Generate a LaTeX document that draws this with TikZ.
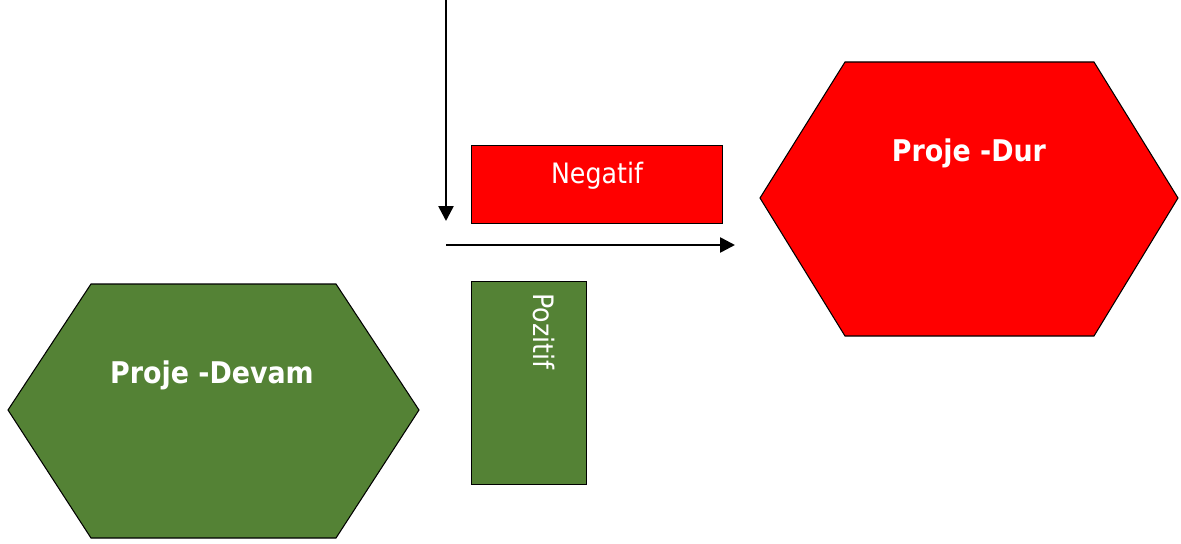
\documentclass[tikz,border=0pt]{standalone}
\usepackage{fontspec}
\setmainfont{DejaVu Sans}
\newfontfamily\condfont{DejaVu Sans Condensed}
\usetikzlibrary{arrows.meta}
\definecolor{pgreen}{HTML}{548235}
\definecolor{pred}{HTML}{FF0000}
\tikzset{
  hexshape/.style={draw=black, line width=0.6pt},
  boxshape/.style={draw=black, line width=0.6pt},
  boldlbl/.style={text=white, font=\condfont\fontsize{17}{20}\selectfont\bfseries, inner sep=0pt, anchor=base},
  plainlbl/.style={text=white, font=\condfont\fontsize{16}{19}\selectfont, inner sep=0pt},
  conn/.style={line width=1.5pt, -{Triangle[length=8.5pt,width=8.5pt]}}
}
\begin{document}
\begin{tikzpicture}[x=0.02cm,y=-0.02cm]
\useasboundingbox (0,0) rectangle (1181,544);
% red hexagon
\filldraw[hexshape, fill=pred] (760,198) -- (845,62) -- (1094,62) -- (1178,198) -- (1094,336) -- (845,336) -- cycle;
\node[boldlbl] (dur) at (969,162) {Proje -Dur};
% green hexagon
\filldraw[hexshape, fill=pgreen] (8,410) -- (91,284) -- (336,284) -- (419,410) -- (336,538) -- (91,538) -- cycle;
\node[boldlbl] (devam) at (212,383) {Proje -Devam};
% Negatif box
\node[boxshape, fill=pred, minimum width=251*0.02cm, minimum height=78*0.02cm, anchor=north west, inner sep=0pt] (negbox) at (471,145) {};
\node[plainlbl, anchor=base] (neg) at (597,184) {Negatif};
% Pozitif box
\node[boxshape, fill=pgreen, minimum width=115*0.02cm, minimum height=203*0.02cm, anchor=north west, inner sep=0pt] (posbox) at (471,281) {};
\node[plainlbl, rotate=-90, anchor=base west] (pos) at (533,293) {Pozitif};
% arrows
\coordinate (vtop) at (446,0);
\coordinate (vend) at (446,221);
\coordinate (hstart) at (446,245);
\coordinate (hend) at (735,245);
\draw[conn] (vtop) -- (vend);
\draw[conn] (hstart) -- (hend);
\end{tikzpicture}
\end{document}
